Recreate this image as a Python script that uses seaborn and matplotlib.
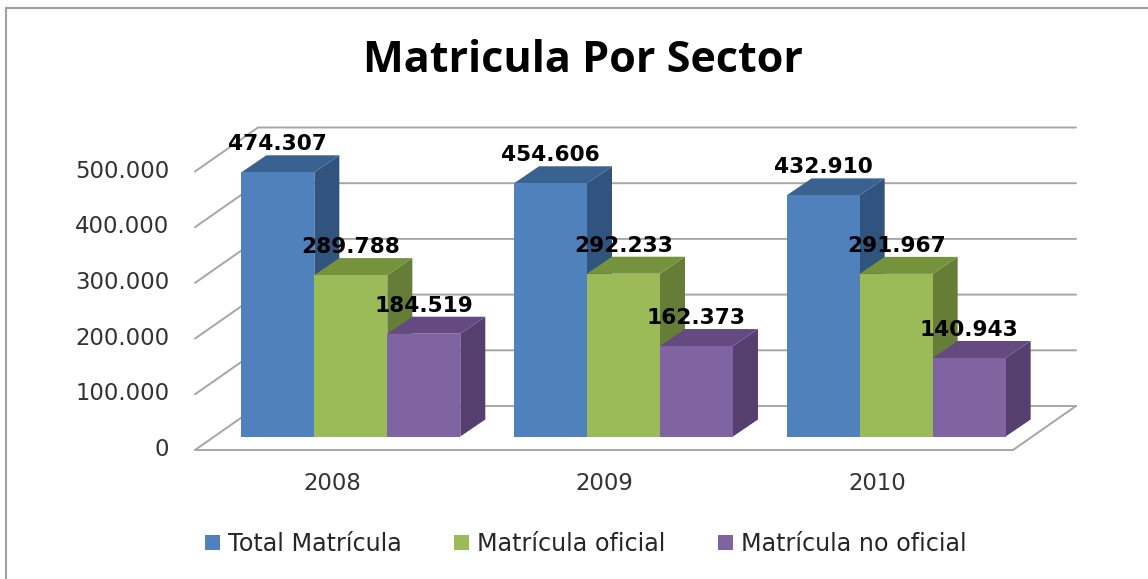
import matplotlib
matplotlib.use("Agg")
import matplotlib.pyplot as plt
import seaborn as sns
import pandas as pd
from matplotlib.lines import Line2D
from matplotlib.patches import Polygon
from matplotlib.transforms import Affine2D

years = ["2008", "2009", "2010"]
series_names = ["Total Matrícula", "Matrícula oficial", "Matrícula no oficial"]
total = [474307, 454606, 432910]
oficial = [289788, 292233, 291967]
no_oficial = [184519, 162373, 140943]
y_ticks = [0, 100000, 200000, 300000, 400000, 500000]
front_colors = ["#4F81BD", "#9BBB59", "#8064A2"]
top_colors = ["#3A6290", "#76923C", "#644A80"]
side_colors = ["#31547F", "#667D38", "#553F6E"]

W, H, DPI = 1148, 579, 100
sns.set_theme(style="white")
plt.rcParams["font.family"] = "DejaVu Sans"

df = pd.DataFrame({
    "Año": years * 3,
    "Serie": [s for s in series_names for _ in years],
    "Valor": total + oficial + no_oficial,
})

fig = plt.figure(figsize=(W / DPI, H / DPI), dpi=DPI, facecolor="white")
L, R, B, T = 214.5, 1032.5, 436.5, 158.0
ax = fig.add_axes([L / W, 1 - B / H, (R - L) / W, (B - T) / H])
sns.barplot(data=df, x="Año", y="Valor", hue="Serie", palette=front_colors,
            width=0.803, gap=0, saturation=1, ax=ax, legend=False, linewidth=0)
ax.set_xlim(-0.5, 2.5)
ax.set_ylim(0, 500000)
ax.set_xlabel("")
ax.set_ylabel("")
for s in ax.spines.values():
    s.set_visible(False)
ax.patch.set_alpha(0)

px_x = 3.0 / (R - L)          # data units per pixel, x
px_y = 500000.0 / (B - T)     # data units per pixel, y

# perspective offsets in pixels
FRONT = (-19.5 * px_x, -13.5 * px_y)
BACK = (43.5 * px_x, 30.5 * px_y)
DEPTH = (25 * px_x, 17 * px_y)

grid_c = "#A6A6A6"
for v in y_ticks:
    ax.plot([-0.5 + FRONT[0], -0.5 + BACK[0], 2.5 + BACK[0]],
            [v + FRONT[1], v + BACK[1], v + BACK[1]],
            color=grid_c, lw=1.4, clip_on=False, zorder=0.5, solid_joinstyle="miter")
ax.plot([-0.5 + FRONT[0], 2.5 + FRONT[0], 2.5 + BACK[0]],
        [FRONT[1], FRONT[1], BACK[1]],
        color=grid_c, lw=1.4, clip_on=False, zorder=0.5, solid_joinstyle="miter")

for i, cont in enumerate(ax.containers):
    for bar in cont:
        x0, x1 = bar.get_x(), bar.get_x() + bar.get_width()
        h = bar.get_height()
        dx, dy = DEPTH
        bar.set_zorder(2 * i + 2)
        bar.set_clip_on(False)
        ax.add_patch(Polygon([(x1, 0), (x1 + dx, dy), (x1 + dx, h + dy), (x1, h)],
                             closed=True, fc=side_colors[i], ec="none",
                             zorder=2 * i + 1, clip_on=False))
        ax.add_patch(Polygon([(x0, h), (x0 + dx, h + dy), (x1 + dx, h + dy), (x1, h)],
                             closed=True, fc=top_colors[i], ec="none",
                             zorder=2 * i + 1, clip_on=False))
        label = f"{h:,.0f}".replace(",", ".")
        ax.annotate(label, (bar.get_x() + bar.get_width() / 2, h),
                    xytext=(0, 28), textcoords="offset pixels",
                    ha="center", va="center", fontsize=15.6, fontweight="bold",
                    color="black", zorder=20, annotation_clip=False)

ax.set_yticks(y_ticks)
ax.set_yticklabels([f"{v:,.0f}".replace(",", ".") for v in y_ticks])
ax.tick_params(axis="y", length=0, pad=45 * 0.72, labelsize=16.4, labelcolor="#333333")
ax.tick_params(axis="x", length=0, pad=35.5 * 0.72, labelsize=16.4, labelcolor="#333333")
for t in ax.get_yticklabels():
    t.set_transform(t.get_transform() + Affine2D().translate(0, -10.5))
for t in ax.get_xticklabels():
    t.set_transform(t.get_transform() + Affine2D().translate(-19, 0))

fig.text(582.5 / W, 1 - 61 / H, "Matricula Por Sector", ha="center", va="center",
         fontsize=31.1, fontweight="bold", family="Open Sans", color="black")

handles = [c[0] for c in ax.containers]
fs = 17.2
fig.legend(handles, series_names, loc="center", bbox_to_anchor=(585.5 / W, 1 - 544 / H),
           ncols=3, frameon=False, fontsize=fs, labelcolor="#262626",
           handlelength=0.63, handleheight=0.63, handletextpad=0.33, columnspacing=2.2,
           borderpad=0, borderaxespad=0)

fc = "#A0A0A0"
fig.add_artist(Line2D([6 / W, 6 / W, 1], [0, 1 - 8 / H, 1 - 8 / H],
                      color=fc, lw=1.5, solid_joinstyle="miter"))

fig.savefig("out.png", dpi=DPI, facecolor="white")
